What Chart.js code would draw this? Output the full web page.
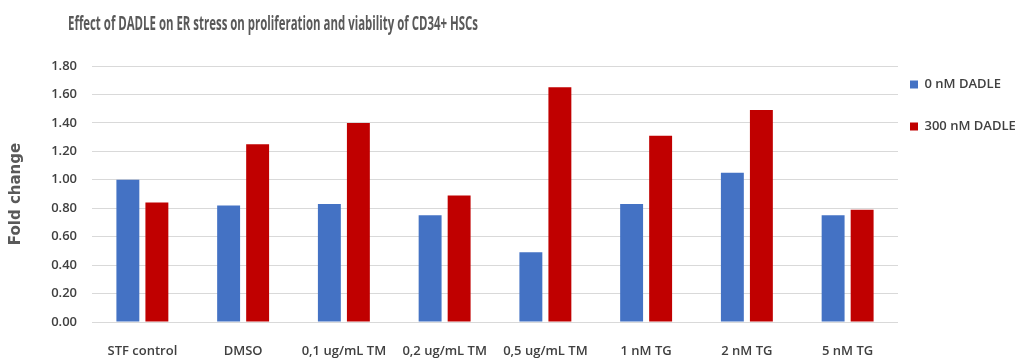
<!DOCTYPE html>
<html>
<head>
    <title>Effect of DADLE on ER stress</title>
    <style>
        body { margin: 0; background: #fff; }
        .chart-container { width: 1019px; height: 361px; position: relative; }
    </style>
    <script src="https://cdn.jsdelivr.net/npm/chart.js"></script>
</head>
<body>
    <div class="chart-container">
        <canvas id="myChart"></canvas>
    </div>

    <script>
        // data
        const categories = ['STF control', 'DMSO', '0,1 ug/mL TM', '0,2 ug/mL TM', '0,5 ug/mL TM', '1 nM TG', '2 nM TG', '5 nM TG'];
        const dadle0 = [1.00, 0.82, 0.83, 0.75, 0.49, 0.83, 1.05, 0.75];
        const dadle300 = [0.84, 1.25, 1.40, 0.89, 1.65, 1.31, 1.49, 0.79];
        const yTicks = [0, 0.2, 0.4, 0.6, 0.8, 1.0, 1.2, 1.4, 1.6, 1.8];

        const font = "'Open Sans', sans-serif";

        // title sits left of centre and is condensed in the original, so draw it by hand
        const titlePlugin = {
            id: 'leftTitle',
            afterDraw(chart) {
                const c = chart.ctx;
                c.save();
                c.font = 'bold 20px ' + font;
                c.fillStyle = '#595959';
                c.textBaseline = 'alphabetic';
                c.fillText('Effect of DADLE on ER stress on proliferation and viability of CD34+ HSCs', 68, 30, 410);
                c.restore();
            }
        };

        const ctx = document.getElementById('myChart').getContext('2d');
        let myChart = new Chart(ctx, {
            type: 'bar',
            data: {
                labels: categories,
                datasets: [{
                    label: '0 nM DADLE',
                    data: dadle0,
                    backgroundColor: '#4472c4',
                    categoryPercentage: 0.576,
                    barPercentage: 0.79
                }, {
                    label: '300 nM DADLE',
                    data: dadle300,
                    backgroundColor: '#c00000',
                    categoryPercentage: 0.576,
                    barPercentage: 0.79
                }]
            },
            plugins: [titlePlugin],
            options: {
                responsive: true,
                maintainAspectRatio: false,
                animation: false,
                layout: { padding: { top: 66, bottom: 0, left: 0, right: 0 } },
                plugins: {
                    title: { display: false },
                    tooltip: { enabled: false },
                    legend: {
                        position: 'right',
                        align: 'start',
                        maxWidth: 121,
                        labels: {
                            boxWidth: 8,
                            boxHeight: 8,
                            padding: 12,
                            color: '#404040',
                            font: { family: font, size: 13, weight: '600', lineHeight: '30px' },
                            // one-line arrays so the row height follows the font lineHeight
                            generateLabels: (chart) => Chart.defaults.plugins.legend.labels.generateLabels(chart)
                                .map(item => Object.assign(item, { text: [item.text] }))
                        }
                    }
                },
                scales: {
                    x: {
                        afterFit: (axis) => { axis.height = 39; },
                        grid: { display: false },
                        border: { display: false },
                        ticks: {
                            padding: 13,
                            color: '#404040',
                            maxRotation: 0,
                            autoSkip: false,
                            font: { family: font, size: 13, weight: '600' }
                        }
                    },
                    y: {
                        min: 0,
                        max: 1.8,
                        afterFit: (axis) => { axis.width = 92; },
                        afterBuildTicks: (axis) => { axis.ticks = yTicks.map(v => ({ value: v })); },
                        grid: { color: '#d9d9d9', drawTicks: false },
                        border: { display: false },
                        ticks: {
                            padding: 15,
                            color: '#404040',
                            font: { family: font, size: 13, weight: '600' },
                            callback: (v) => Number(v).toFixed(2)
                        },
                        title: {
                            display: true,
                            text: 'Fold change',
                            color: '#595959',
                            font: { family: 'DejaVu Sans', size: 15, weight: 'bold' },
                            padding: { top: 7, bottom: 0 }
                        }
                    }
                }
            }
        });
    </script>
</body>
</html>
